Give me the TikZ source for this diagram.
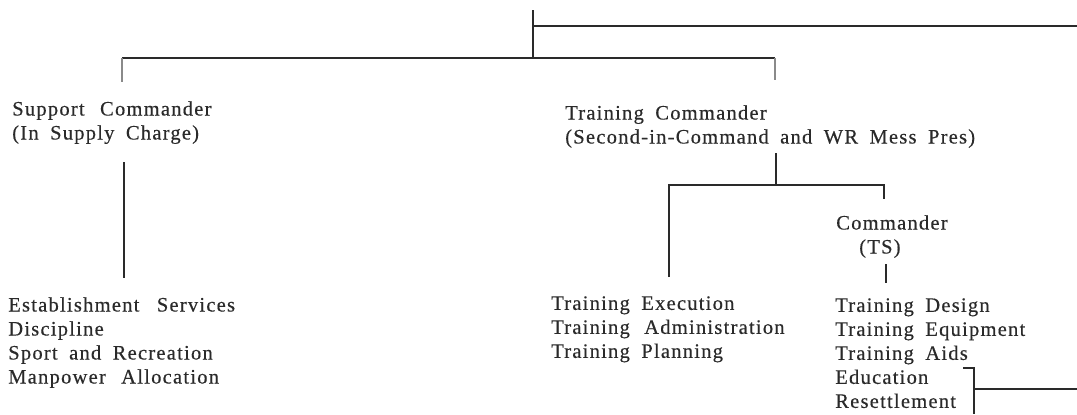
\documentclass[tikz,border=0pt]{standalone}
\usepackage{fontspec}
\setmainfont{Liberation Serif}[LetterSpace=6,WordSpace=1.8,FakeBold=0.4]
\definecolor{ink}{HTML}{2A2A2A}
\definecolor{faint}{HTML}{8A8A8A}
\begin{document}
\begin{tikzpicture}[x=0.75pt,y=-0.75pt,
  lbl/.style={anchor=north west,inner sep=0pt,align=left,text=ink,
    font=\fontsize{15.4}{18}\selectfont},
  wire/.style={draw=ink,line width=1.6pt},
  heavy/.style={draw=ink,line width=2.2pt},
  thin/.style={draw=faint,line width=1.6pt}]
\useasboundingbox (0,0) rectangle (1077,414);
% nodes
\node[lbl] (sup) at (12,101) {Support\hspace{0.75em}Commander\\(In Supply Charge)};
\node[lbl] (trc) at (565,105) {Training Commander\\(Second-in-Command and WR Mess Pres)};
\node[lbl] (est) at (8,297) {Establishment\hspace{0.85em}Services\\Discipline\\Sport and Recreation\\Manpower\hspace{0.75em}Allocation};
\node[lbl] (exe) at (551,296) {Training Execution\\Training\hspace{0.7em}Administration\\Training Planning};
\node[lbl] (cts) at (836,215) {Commander};
\node[lbl] (ts) at (859,239) {(TS)};
\node[lbl] (des) at (835,298) {Training Design\\Training Equipment\\Training Aids\\Education\\Resettlement};
% coordinates
\coordinate (topT) at (533,10);
\coordinate (topB) at (533,58);
\coordinate (topR) at (1077,26);
\coordinate (topJ) at (533,26);
\coordinate (hL) at (122,58);
\coordinate (hR) at (775,58);
\coordinate (hLd) at (122,82);
\coordinate (hRd) at (775,80);
\coordinate (supA) at (124,162);
\coordinate (supB) at (124,278);
\coordinate (trA) at (776,153);
\coordinate (trB) at (776,185);
\coordinate (h2L) at (669,185);
\coordinate (h2R) at (884,185);
\coordinate (h2Ld) at (669,277);
\coordinate (h2Rd) at (884,199);
\coordinate (tsA) at (886,264);
\coordinate (tsB) at (886,283);
\coordinate (brA) at (963,368);
\coordinate (brB) at (974,368);
\coordinate (brC) at (974,414);
\coordinate (brM) at (974,389);
\coordinate (brR) at (1077,389);
% connectors
\draw[wire] (topT) -- (topB);
\draw[wire] (topJ) -- (topR);
\draw[wire] (hL) -- (hR);
\draw[thin] (hL) -- (hLd);
\draw[thin] (hR) -- (hRd);
\draw[heavy] (supA) -- (supB);
\draw[wire] (trA) -- (trB);
\draw[wire] (h2Ld) -- (h2L) -- (h2R) -- (h2Rd);
\draw[wire] (tsA) -- (tsB);
\draw[wire] (brA) -- (brB) -- (brC);
\draw[wire] (brM) -- (brR);
\end{tikzpicture}
\end{document}
